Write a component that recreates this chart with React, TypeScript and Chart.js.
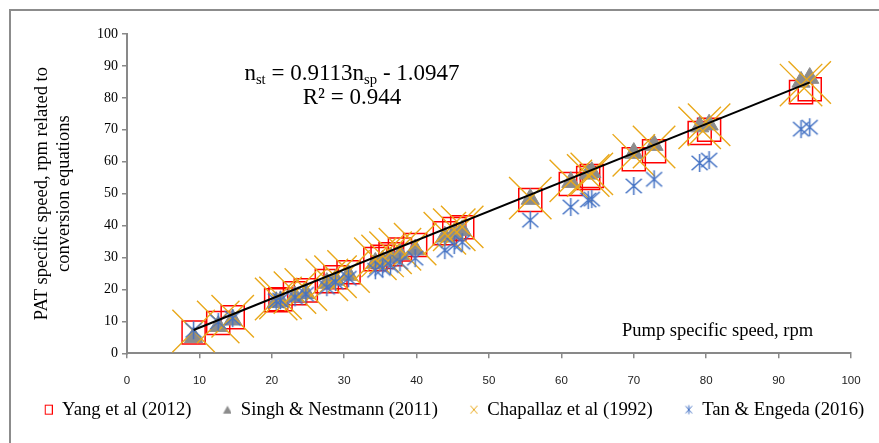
import React, { useEffect, useRef } from "react";
import { Chart, registerables } from "chart.js";

Chart.register(...registerables);

// Pump specific speed (x) shared by all series
const pumpSpeed = [9.2, 12.6, 14.6, 20.6, 21.2, 23.2, 24.7, 27.6, 28.8, 30.6, 34.3, 35.3, 36.4, 37.7, 39.8, 43.9, 45.2, 46.3, 55.7, 61.3, 63.7, 64.2, 70.0, 72.8, 79.1, 80.4, 93.1, 94.3];
const yang = [6.5, 9.5, 11.3, 16.6, 16.9, 18.8, 19.7, 22.6, 23.8, 25.4, 29.5, 30.2, 31.0, 32.5, 33.9, 37.6, 38.9, 39.5, 48.0, 53.0, 54.9, 55.5, 60.8, 63.3, 69.0, 70.0, 81.8, 82.7];
const singh = [5.0, 8.5, 10.5, 16.0, 16.3, 17.8, 18.8, 22.0, 23.0, 24.5, 28.3, 29.0, 30.0, 31.0, 32.5, 36.5, 37.5, 38.5, 48.3, 53.6, 56.2, 56.7, 62.7, 65.2, 71.0, 71.6, 85.0, 86.2];
const chapallaz = [7.0, 9.8, 11.6, 17.0, 17.3, 19.0, 20.0, 23.0, 24.0, 25.6, 29.6, 30.5, 31.5, 32.6, 34.2, 37.6, 38.7, 39.6, 48.6, 54.0, 55.7, 56.2, 62.0, 64.6, 70.6, 71.6, 84.0, 84.8];
const tan = [7.2, 9.8, 11.0, 16.4, 16.6, 17.5, 18.5, 20.7, 22.3, 23.5, 26.0, 26.6, 27.5, 28.5, 29.8, 32.3, 33.9, 34.8, 41.7, 45.8, 48.0, 48.3, 52.4, 54.5, 59.6, 60.5, 70.2, 70.8];

// Linear trendline end points (n_st = 0.9113 n_sp - 1.0947)
const trendX = [9.2, 94.3];
const trendY = [7.29, 84.84];

const seriesNames = ["Yang et al (2012)", "Singh & Nestmann (2011)", "Chapallaz et al (1992)", "Tan & Engeda (2016)"];
const yTitle = ["PAT specific speed, rpm related to", "conversion equations"];
const xTitle = "Pump specific speed, rpm";

const RED = "#ff0000";
const GRAY = "#8c8c8c";
const ORANGE = "#e9a81a";
const BLUE = "#4472c4";
const AXIS = "#898989";

function makeCanvas(w: number, h: number, draw: (ctx: CanvasRenderingContext2D) => void) {
  const c = document.createElement("canvas");
  c.width = w;
  c.height = h;
  const ctx = c.getContext("2d")!;
  draw(ctx);
  return c;
}

function drawAsterisk(ctx: CanvasRenderingContext2D, cx: number, cy: number, hw: number, hh: number, lw: number) {
  ctx.strokeStyle = BLUE;
  ctx.lineWidth = lw;
  const dy = hh * 0.8;
  ctx.beginPath();
  ctx.moveTo(cx, cy - hh);
  ctx.lineTo(cx, cy + hh);
  ctx.moveTo(cx - hw, cy - dy);
  ctx.lineTo(cx + hw, cy + dy);
  ctx.moveTo(cx + hw, cy - dy);
  ctx.lineTo(cx - hw, cy + dy);
  ctx.stroke();
}

// legend marker canvases: marker drawn near the right edge to create the gap between items
const LW = 28;
const LH = 14;
const LCX = 24;
const LCY = 7;

function legendMarker(kind: number) {
  return makeCanvas(LW, LH, (ctx) => {
    if (kind === 0) {
      ctx.strokeStyle = RED;
      ctx.lineWidth = 1;
      ctx.strokeRect(LCX - 3.5, LCY - 4.5, 7, 9);
    } else if (kind === 1) {
      ctx.fillStyle = GRAY;
      ctx.beginPath();
      ctx.moveTo(LCX, LCY - 4);
      ctx.lineTo(LCX + 4.5, LCY + 4);
      ctx.lineTo(LCX - 4.5, LCY + 4);
      ctx.closePath();
      ctx.fill();
    } else if (kind === 2) {
      ctx.strokeStyle = ORANGE;
      ctx.lineWidth = 1;
      ctx.beginPath();
      ctx.moveTo(LCX - 3.5, LCY - 4);
      ctx.lineTo(LCX + 3.5, LCY + 4);
      ctx.moveTo(LCX + 3.5, LCY - 4);
      ctx.lineTo(LCX - 3.5, LCY + 4);
      ctx.stroke();
    } else {
      drawAsterisk(ctx, LCX, LCY, 3.2, 4.5, 1);
    }
  });
}

function pts(ys: number[]) {
  return pumpSpeed.map((x, i) => ({ x, y: ys[i] }));
}

export default function App() {
  const ref = useRef<HTMLCanvasElement>(null);

  useEffect(() => {
    const canvas = ref.current!;
    const tanMarker = makeCanvas(19, 20, (ctx) => drawAsterisk(ctx, 9.5, 10, 8, 9, 1.5));
    const legendMarkers = [0, 1, 2, 3].map(legendMarker);
    const serifFont = "'Liberation Serif', 'Times New Roman', serif";

    const chart = new Chart(canvas, {
      type: "scatter",
      data: {
        datasets: [
          {
            label: "trend",
            data: trendX.map((x, i) => ({ x, y: trendY[i] })),
            showLine: true,
            borderColor: "#000",
            borderWidth: 2,
            pointRadius: 0,
          },
          {
            label: seriesNames[3],
            data: pts(tan),
            pointStyle: tanMarker as any,
            pointRadius: 10,
            borderColor: BLUE,
            backgroundColor: BLUE,
          },
          {
            label: seriesNames[2],
            data: pts(chapallaz),
            pointStyle: "crossRot",
            pointRadius: 30,
            borderColor: ORANGE,
            borderWidth: 1.4,
            backgroundColor: "rgba(0,0,0,0)",
          },
          {
            label: seriesNames[1],
            data: pts(singh),
            pointStyle: "triangle",
            pointRadius: 10.5,
            borderColor: GRAY,
            borderWidth: 1,
            backgroundColor: GRAY,
          },
          {
            label: seriesNames[0],
            data: pts(yang),
            pointStyle: "rect",
            pointRadius: 16.3,
            borderColor: RED,
            borderWidth: 1.5,
            backgroundColor: "rgba(0,0,0,0)",
          },
        ],
      },
      options: {
        animation: false,
        responsive: false,
        events: [],
        layout: { padding: { left: 0, right: 0, top: 34, bottom: 14 } },
        plugins: {
          tooltip: { enabled: false },
          legend: {
            position: "bottom",
            labels: {
              usePointStyle: true,
              pointStyleWidth: LW,
              boxHeight: 9,
              padding: 12,
              color: "#000",
              font: { family: serifFont, size: 18.7 },
              generateLabels: () =>
                seriesNames.map((name, i) => ({
                  text: name,
                  pointStyle: legendMarkers[i] as any,
                  fillStyle: "transparent",
                  strokeStyle: "transparent",
                  lineWidth: 0,
                  hidden: false,
                  datasetIndex: 4 - i,
                  fontColor: "#000",
                })),
            },
          },
        },
        scales: {
          x: {
            type: "linear",
            position: "bottom",
            min: 0,
            max: 100,
            ticks: {
              stepSize: 10,
              padding: 16,
              color: "#222",
              font: { family: "'Liberation Sans', Arial, sans-serif", size: 11.5 },
            },
            grid: { drawOnChartArea: false, drawTicks: true, tickLength: 5, color: AXIS, lineWidth: 1.5 },
            border: { color: AXIS, width: 2 },
            afterFit: (s: any) => {
              s.height = 35;
            },
          },
          y: {
            type: "linear",
            position: "left",
            min: 0,
            max: 100,
            ticks: {
              stepSize: 10,
              padding: 4,
              color: "#000",
              font: { family: serifFont, size: 14 },
            },
            grid: { drawOnChartArea: false, drawTicks: true, tickLength: 5, color: AXIS, lineWidth: 1.5 },
            border: { color: AXIS, width: 2 },
            title: {
              display: true,
              text: yTitle,
              color: "#000",
              font: { family: serifFont, size: 18.5, lineHeight: 1.2 },
              padding: { top: 31, bottom: 0 },
            },
            afterFit: (s: any) => {
              s.width = 127;
            },
          },
          y2: {
            type: "linear",
            position: "right",
            display: true,
            ticks: { display: false },
            grid: { display: false },
            border: { display: false },
            afterFit: (s: any) => {
              s.width = 38;
            },
          },
        },
      } as any,
    });
    return () => chart.destroy();
  }, []);

  const serif = "'Liberation Serif', 'Times New Roman', serif";
  const subStyle: React.CSSProperties = { fontSize: "0.64em", verticalAlign: "-0.28em", lineHeight: 0 };

  return (
    <div style={{ position: "fixed", left: 0, top: 0, width: 879, height: 443, overflow: "hidden", background: "#fff" }}>
      <canvas ref={ref} width={889} height={443} style={{ position: "absolute", left: 0, top: 0, width: 889, height: 443, display: "block" }} />
      <div
        style={{
          position: "absolute",
          left: 9,
          top: 9,
          width: 893,
          height: 480,
          border: "2px solid #8c8c8c",
          boxSizing: "border-box",
          pointerEvents: "none",
        }}
      />
      <div
        style={{
          position: "absolute",
          left: 202,
          top: 60,
          width: 300,
          textAlign: "center",
          fontFamily: serif,
          fontSize: 23,
          lineHeight: "25px",
          color: "#000",
          whiteSpace: "nowrap",
        }}
      >
        n<span style={subStyle}>st</span> = 0.9113n<span style={subStyle}>sp</span> - 1.0947
      </div>
      <div
        style={{
          position: "absolute",
          left: 202,
          top: 84,
          width: 300,
          textAlign: "center",
          fontFamily: serif,
          fontSize: 23,
          lineHeight: "25px",
          color: "#000",
          whiteSpace: "nowrap",
        }}
      >
        R² = 0.944
      </div>
      <div
        style={{
          position: "absolute",
          left: 622,
          top: 320,
          fontFamily: serif,
          fontSize: 18.5,
          lineHeight: "20.5px",
          color: "#000",
          whiteSpace: "nowrap",
        }}
      >
        {xTitle}
      </div>
    </div>
  );
}
